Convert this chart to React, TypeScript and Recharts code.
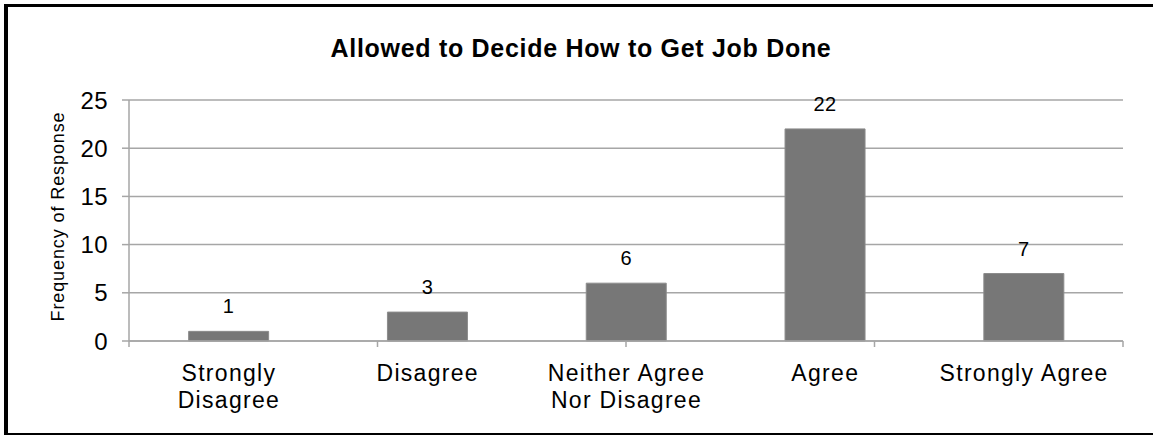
import React from "react";
import { BarChart, Bar, XAxis, YAxis, CartesianGrid, LabelList } from "recharts";

const categories = ["Strongly Disagree", "Disagree", "Neither Agree Nor Disagree", "Agree", "Strongly Agree"];
const tickLines = [["Strongly", "Disagree"], ["Disagree"], ["Neither Agree", "Nor Disagree"], ["Agree"], ["Strongly Agree"]];
const responses = [1, 3, 6, 22, 7];
const yTicks = [0, 5, 10, 15, 20, 25];
const boundaryTicks = [0, 1, 2, 3, 4, 5];

const data = categories.map((name, i) => ({ name, value: responses[i] }));

const FONT = "'Liberation Sans', Arial, Helvetica, sans-serif";

const CategoryTick = (props: any) => {
  const { x, y, payload } = props;
  const idx = categories.indexOf(payload.value);
  const lines = tickLines[idx] || [payload.value];
  return (
    <text x={x} y={y} textAnchor="middle" fontSize={23} letterSpacing={1.3} fill="#000" fontFamily={FONT}>
      {lines.map((l: string, i: number) => (
        <tspan key={i} x={x + 0.5} dy={i === 0 ? 33 : 27}>
          {l}
        </tspan>
      ))}
    </text>
  );
};

const YLabel = (props: any) => {
  const vb = props.viewBox || {};
  const cx = vb.x + 58;
  const cy = vb.y + vb.height / 2 - 4;
  return (
    <text
      x={cx}
      y={cy}
      transform={`rotate(-90 ${cx} ${cy})`}
      textAnchor="middle"
      dominantBaseline="central"
      fontSize={18}
      letterSpacing={0.9}
      fill="#000"
      fontFamily={FONT}
    >
      Frequency of Response
    </text>
  );
};

export default function App() {
  return (
    <div style={{ position: "absolute", left: 0, top: 0, width: 1153, height: 436, overflow: "hidden", background: "#fff" }}>
      <div
        style={{
          position: "absolute",
          left: 4,
          top: 4,
          width: 1170,
          height: 431,
          boxSizing: "border-box",
          borderTop: "3px solid #000",
          borderLeft: "4px solid #000",
          borderBottom: "2px solid #000",
        }}
      />
      <svg width={1153} height={436} style={{ position: "absolute", left: 0, top: 0 }}>
        <text
          x={581}
          y={57}
          textAnchor="middle"
          fontSize={25}
          letterSpacing={0.7}
          fontWeight="bold"
          fill="#000"
          fontFamily={FONT}
        >
          Allowed to Decide How to Get Job Done
        </text>
      </svg>
      <div style={{ position: "absolute", left: 0, top: 0 }}>
        <BarChart
          width={1153}
          height={436}
          data={data}
          margin={{ top: 100, right: 30, left: 0, bottom: 0 }}
          barCategoryGap="30%"
          style={{ fontFamily: FONT }}
        >
          <CartesianGrid xAxisId="cat" vertical={false} stroke="#a6a6a6" strokeWidth={1.5} />
          <XAxis
            xAxisId="bound"
            type="number"
            domain={[0, 5]}
            allowDataOverflow
            ticks={boundaryTicks}
            tickFormatter={() => ""}
            tickSize={6}
            height={7}
            axisLine={{ stroke: "#a6a6a6", strokeWidth: 1.5 }}
            tickLine={{ stroke: "#a6a6a6", strokeWidth: 1.5 }}
          />
          <XAxis
            xAxisId="cat"
            dataKey="name"
            axisLine={false}
            tickLine={false}
            tickSize={0}
            tickMargin={0}
            height={88}
            interval={0}
            tick={<CategoryTick />}
          />
          <YAxis
            domain={[0, 25]}
            ticks={yTicks}
            width={129}
            tickSize={7}
            tickMargin={14}
            axisLine={{ stroke: "#a6a6a6", strokeWidth: 1.5 }}
            tickLine={{ stroke: "#a6a6a6", strokeWidth: 1.5 }}
            tick={{ fontSize: 24, fill: "#000", fontFamily: FONT, letterSpacing: 0.4 }}
            label={{ content: <YLabel /> }}
          />
          <Bar xAxisId="cat" dataKey="value" fill="#777777" stroke="#8c8c8c" isAnimationActive={false}>
            <LabelList
              dataKey="value"
              position="top"
              offset={18}
              fontSize={20}
              letterSpacing={0.4}
              fill="#000"
              fontFamily={FONT}
            />
          </Bar>
        </BarChart>
      </div>
    </div>
  );
}
